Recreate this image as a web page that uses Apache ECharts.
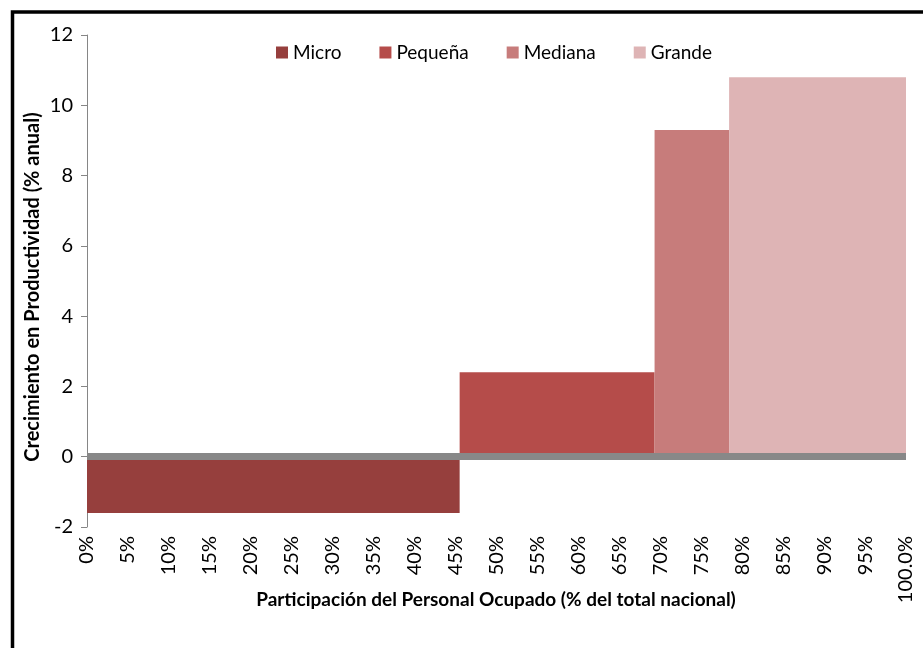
<!DOCTYPE html>
<html>
<head>
<meta charset="utf-8">
<script src="https://cdn.jsdelivr.net/npm/echarts@6/dist/echarts.min.js"></script>
<style>
html,body{margin:0;padding:0;background:#fff;}
#chart{width:923px;height:648px;}
</style>
</head>
<body>
<div id="chart"></div>
<script>
// Data
const categories = ['Micro', 'Pequeña', 'Mediana', 'Grande'];
const shareStart = [0, 45.5, 69.3, 78.4];   // % of national employment, cumulative start
const shareEnd = [45.5, 69.3, 78.4, 100];   // cumulative end
const growth = [-1.6, 2.4, 9.3, 10.8];      // productivity growth, % annual
const colors = ['#963F3D', '#B54C4A', '#C77C7B', '#DEB4B5'];
const xTickValues = [0,5,10,15,20,25,30,35,40,45,50,55,60,65,70,75,80,85,90,95,100];
const xTickLabels = ['0%','5%','10%','15%','20%','25%','30%','35%','40%','45%','50%','55%','60%','65%','70%','75%','80%','85%','90%','95%','100.0%'];
const yTicks = [-2, 0, 2, 4, 6, 8, 10, 12];

const FONT = 'Lato, "Open Sans", sans-serif';
const chart = echarts.init(document.getElementById('chart'), null, {renderer: 'canvas'});

function renderBar(params, api) {
  const p0 = api.coord([api.value(0), api.value(2)]);
  const p1 = api.coord([api.value(1), 0]);
  return {
    type: 'rect',
    shape: {x: p0[0], y: Math.min(p0[1], p1[1]), width: p1[0] - p0[0], height: Math.abs(p1[1] - p0[1])},
    style: {fill: api.visual('color')}
  };
}

const series = categories.map((c, i) => ({
  name: c,
  type: 'custom',
  renderItem: renderBar,
  itemStyle: {color: colors[i]},
  encode: {x: [0, 1], y: 2},
  data: [[shareStart[i], shareEnd[i], growth[i]]],
  z: 2
}));

chart.setOption({
  animation: false,
  backgroundColor: '#fff',
  textStyle: {fontFamily: FONT},
  grid: {left: 87, right: 17, top: 35, bottom: 121},
  legend: {
    top: 38, left: 271,
    itemWidth: 12, itemHeight: 12, itemGap: 38,
    icon: 'rect',
    textStyle: {fontSize: 19, color: '#000', fontFamily: FONT},
    data: categories
  },
  xAxis: [{
    type: 'value', min: 0, max: 100, interval: 5,
    axisLine: {show: false, onZero: false},
    axisTick: {show: false},
    splitLine: {show: false},
    axisLabel: {
      rotate: 90, fontSize: 20, color: '#000', margin: 9, fontFamily: FONT,
      formatter: v => xTickLabels[xTickValues.indexOf(v)]
    }
  }, {
    type: 'value', min: 0, max: 100, position: 'bottom', z: 10,
    axisLine: {show: true, onZero: true, lineStyle: {color: '#888888', width: 7, cap: 'butt'}},
    axisTick: {show: false}, axisLabel: {show: false}, splitLine: {show: false}
  }],
  yAxis: {
    type: 'value', min: -2, max: 12, interval: 2,
    axisLine: {show: true, lineStyle: {color: '#868686', width: 1}},
    axisTick: {show: true, length: 6, lineStyle: {color: '#868686'}},
    splitLine: {show: false},
    axisLabel: {fontSize: 20, color: '#000', margin: 14, fontFamily: FONT,
      formatter: v => yTicks.includes(v) ? String(v) : ''}
  },
  graphic: [
    {type: 'rect', shape: {x: 12.5, y: 12, width: 1000, height: 1000},
     style: {fill: null, stroke: '#000', lineWidth: 3.5}, z: 100},
    {type: 'text', x: 33, y: 287, rotation: Math.PI / 2,
     style: {text: 'Crecimiento en Productividad (% anual)', font: 'bold 20px ' + FONT,
       fill: '#000', align: 'center', verticalAlign: 'middle'}},
    {type: 'text', x: 496, y: 600,
     style: {text: 'Participación del Personal Ocupado (% del total nacional)', font: 'bold 19px ' + FONT,
       fill: '#000', align: 'center', verticalAlign: 'middle'}}
  ],
  series: series
});
</script>
</body>
</html>
